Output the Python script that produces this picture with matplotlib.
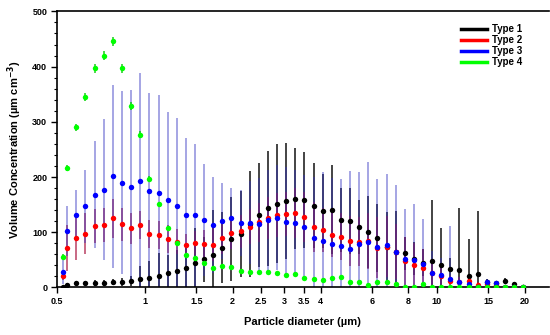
import matplotlib
matplotlib.use("Agg")
from matplotlib import pyplot as plt
from matplotlib.lines import Line2D
from matplotlib.ticker import FixedLocator, MultipleLocator, NullLocator
import numpy as np

plt.rcParams["font.family"] = ["Liberation Sans", "DejaVu Sans"]
plt.rcParams["font.weight"] = "bold"

# APS channel midpoints (um)
diameter = [0.523, 0.542, 0.583, 0.626, 0.673, 0.723, 0.777, 0.835, 0.898, 0.965,
            1.037, 1.114, 1.197, 1.286, 1.382, 1.486, 1.596, 1.715, 1.843, 1.981,
            2.129, 2.288, 2.458, 2.642, 2.839, 3.051, 3.278, 3.523, 3.786, 4.068,
            4.371, 4.698, 5.048, 5.425, 5.829, 6.264, 6.732, 7.234, 7.774, 8.354,
            8.977, 9.647, 10.37, 11.14, 11.97, 12.86, 13.82, 14.86, 15.96, 17.15,
            18.43, 19.81]

type1 = [1.5, 4.5, 7.5, 7.5, 8, 8, 10, 10, 12, 15,
         17, 21, 26, 30, 35, 44, 51, 58, 72, 87,
         97, 115, 131, 143, 152, 157, 161, 159, 148, 139,
         141, 123, 120, 110, 101, 90, 73, 65, 62, 52,
         45, 48, 40, 33, 31, 20, 25, 10, 8, 12,
         6, 0.5]
type1_sd = [1, 3, 4, 4, 5, 5, 6, 7, 9, 24,
            31, 42, 33, 38, 37, 64, 41, 82, 64, 76,
            78, 96, 94, 104, 107, 105, 92, 87, 77, 67,
            80, 58, 60, 49, 65, 62, 64, 73, 30, 30,
            25, 111, 68, 20, 113, 68, 114, 5, 4, 5,
            3, 0]

type2 = [21, 71.5, 90, 97, 111, 113, 125, 114, 107, 113,
         97, 95, 88, 83, 77, 81, 79, 77, 90, 99,
         102, 110, 118, 125, 131, 133, 135, 128, 110, 104,
         95, 92, 84, 83, 84, 72, 74, 65, 47, 41,
         35, 27, 20, 11, 10, 11, 5, 7, 5, 1,
         0.5, 0.5]
type2_sd = [8, 42, 40, 37, 31, 30, 35, 30, 28, 26,
            25, 25, 25, 22, 20, 22, 25, 30, 30, 30,
            30, 32, 35, 38, 40, 40, 45, 45, 45, 40,
            40, 42, 45, 45, 50, 55, 55, 50, 45, 40,
            35, 25, 15, 10, 8, 10, 5, 4, 3, 1,
            0, 0]

type3 = [27.5, 102, 132, 147, 168, 177, 201, 190, 182, 193,
         174, 171, 159, 148, 132, 131, 122, 113, 120, 125,
         117, 117, 114, 122, 126, 118, 117, 109, 90, 85,
         79, 75, 70, 79, 82, 73, 76, 65, 52, 50,
         42, 26, 23, 16, 9, 7, 1, 10, 8, 1,
         0.5, 0.3]
type3_sd = [22, 45, 45, 66, 97, 128, 165, 166, 175, 196,
            179, 178, 159, 158, 138, 129, 101, 87, 69, 56,
            60, 75, 85, 90, 95, 100, 95, 95, 110, 124,
            120, 122, 140, 130, 146, 124, 130, 121, 90, 101,
            82, 40, 30, 95, 10, 8, 3, 5, 4, 1,
            0, 0]

type4 = [56, 216, 290, 345, 397, 420, 446, 397, 329, 277,
         197, 151, 107, 81, 58, 54, 44, 36, 38, 37,
         30, 27.5, 27.5, 28.6, 25.7, 22, 24, 16.6, 16, 13.6,
         17, 18, 9.4, 10, 4, 10, 10.5, 6, 0.5, 1,
         6, 0.3, 0.3, 0.3, 0.3, 0.3, 0.3, 0.3, 0.3, 0.3,
         0.3, 0.3]
type4_sd = [4, 6, 6, 7, 8, 8, 8, 8, 7, 6,
            5, 4, 4, 3, 3, 3, 3, 3, 3, 3,
            3, 3, 3, 3, 3, 3, 3, 3, 3, 3,
            3, 3, 2, 2, 2, 2, 2, 2, 1, 1,
            1, 0, 0, 0, 0, 0, 0, 0, 0, 0,
            0, 0]

x_ticks = [0.5, 1, 1.5, 2, 2.5, 3, 3.5, 4, 6, 8, 10, 15, 20]
x_tick_labels = ["0.5", "1", "1.5", "2", "2.5", "3", "3.5", "4", "6", "8", "10", "15", "20"]

series = [
    ("Type 1", type1, type1_sd, "#000000", "#111111", 1.0),
    ("Type 2", type2, type2_sd, "#ff0000", "#a8103c", 0.8),
    ("Type 3", type3, type3_sd, "#0000ff", "#3030c0", 0.55),
    ("Type 4", type4, type4_sd, "#00ff00", "#00cc00", 0.9),
]

fig = plt.figure(figsize=(5.5, 3.35), dpi=100)
ax = fig.add_axes([0.1036, 0.142, 0.894, 0.824])

d = np.array(diameter)
for name, vals, sd, col, ecol, alpha in series:
    v = np.array(vals, dtype=float)
    s = np.array(sd, dtype=float)
    lower = np.minimum(s, v)
    ax.errorbar(d, v, yerr=[lower, s], fmt="none", ecolor=ecol,
                elinewidth=1.1, alpha=alpha, capsize=0, zorder=2)
    ax.plot(d, v, "o", color=col, markersize=3.9, markeredgewidth=0, zorder=3)

ax.set_xscale("log")
ax.set_xlim(0.5, 24.2)
ax.set_ylim(0, 500)
ax.xaxis.set_major_locator(FixedLocator(x_ticks))
ax.xaxis.set_minor_locator(NullLocator())
ax.set_xticklabels(x_tick_labels)
ax.yaxis.set_major_locator(MultipleLocator(100))
ax.yaxis.set_minor_locator(MultipleLocator(20))

ax.spines["right"].set_visible(False)
for sp in ["left", "bottom", "top"]:
    ax.spines[sp].set_linewidth(1.2)
ax.tick_params(axis="both", which="major", direction="out", length=4, width=1,
               labelsize=6.5, pad=3)
ax.tick_params(axis="y", which="minor", direction="out", length=2.5, width=0.8)
ax.tick_params(top=False, right=False)
for lab in ax.get_xticklabels() + ax.get_yticklabels():
    lab.set_fontweight("bold")

ax.set_xlabel("Particle diameter (\u00b5m)", fontsize=8, fontweight="bold", labelpad=8)
ax.set_ylabel("Volume Concentration (\u00b5m cm$^{\\mathbf{-3}}$)", fontsize=8,
              fontweight="bold", labelpad=6)

handles = [Line2D([], [], color=c, linewidth=2.5) for _, _, _, c, _, _ in series]
ax.legend(handles, [s[0] for s in series], loc="upper right",
          bbox_to_anchor=(0.965, 0.985), frameon=False,
          handlelength=2.6, labelspacing=0.1, handletextpad=0.6,
          prop={"weight": "bold", "size": 7})

fig.savefig("out.png", dpi=100)
